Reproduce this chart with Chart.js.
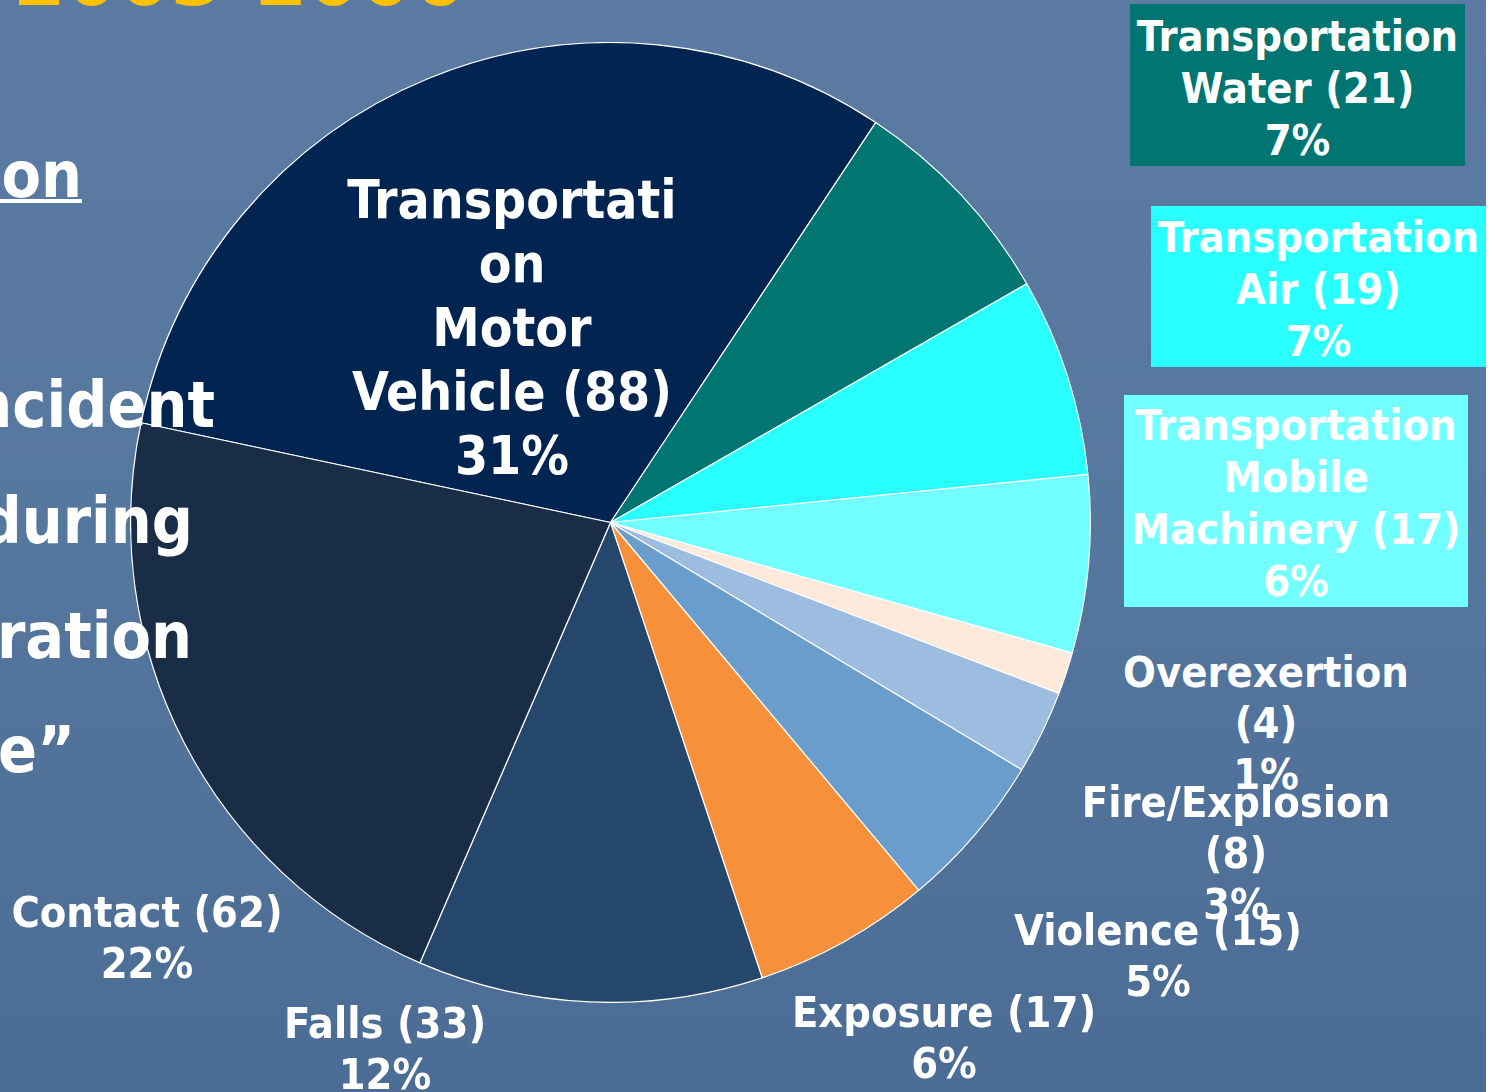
<!DOCTYPE html>
<html>
<head>
<meta charset="utf-8">
<script src="https://cdn.jsdelivr.net/npm/chart.js@4"></script>
<style>
  html, body { margin: 0; padding: 0; background: #ffffff; }
  #slide {
    position: relative; width: 1486px; height: 1092px; overflow: hidden;
    background: linear-gradient(180deg, #5b7ba2 0%, #56779e 45%, #4b6c94 100%);
    font-family: "DejaVu Sans Condensed", "DejaVu Sans", Verdana, sans-serif; font-weight: bold; color: #fff;
  }
  #pieBox { position: absolute; left: 130px; top: 42px; width: 961px; height: 961px; }
  .bodyText { position: absolute; white-space: nowrap; text-align: right; font-size: 64px; line-height: 80px; }
  .title { position: absolute; white-space: nowrap; color: #ffc000; font-size: 84px; line-height: 84px; }
  .lbl { position: absolute; white-space: nowrap; text-align: center; font-size: 43px; line-height: 51px; }
  .lbl.box { box-sizing: border-box; line-height: 52px; }
  .lbl.big { font-size: 53px; line-height: 64px; }
</style>
</head>
<body>
<div id="slide">
  <div id="pieBox"><canvas id="pie"></canvas></div>
</div>
<script>
// fatalities by event type, clockwise from the motor vehicle slice
const categories = [
  "Transportation Motor Vehicle", "Transportation Water", "Transportation Air",
  "Transportation Mobile Machinery", "Overexertion", "Fire/Explosion",
  "Violence", "Exposure", "Falls", "Contact"
];
const counts = [88, 21, 19, 17, 4, 8, 15, 17, 33, 62];
const sliceColors = [
  "#012550", "#007571", "#29ffff", "#72ffff", "#fdeadb",
  "#9dbde0", "#6a9ccc", "#f6903a", "#24476b", "#1a2d47"
];
// label text as laid out on the slide ({n} = count, {p} = percent)
const labelLines = [
  ["Transportati", "on", "Motor", "Vehicle ({n})", "{p}%"],
  ["Transportation", "Water ({n})", "{p}%"],
  ["Transportation", "Air ({n})", "{p}%"],
  ["Transportation", "Mobile", "Machinery ({n})", "{p}%"],
  ["Overexertion", "({n})", "{p}%"],
  ["Fire/Explosion", "({n})", "{p}%"],
  ["Violence ({n})", "{p}%"],
  ["Exposure ({n})", "{p}%"],
  ["Falls ({n})", "{p}%"],
  ["Contact ({n})", "{p}%"]
];
// where each label sits: centre x, top y, optional filled box
const labelPlaces = [
  { cx: 512, top: 168, cls: "big" },
  { box: [1130, 4, 335, 162], pad: 6 },
  { box: [1151, 206, 335, 161], pad: 5 },
  { box: [1124, 395, 344, 212], pad: 4 },
  { cx: 1266, top: 647 },
  { cx: 1236, top: 777 },
  { cx: 1158, top: 905 },
  { cx: 944, top: 987 },
  { cx: 385, top: 998 },
  { cx: 147, top: 887 }
];
// slide body text, cut off by the left edge: [text, right edge x, baseline y]
const bodyLines = [
  ["Transportation", 82, 197],
  ["Incident", 215, 427],
  ["during", 193, 543],
  ["operation", 192, 658],
  ["of a vehicle\u201d", 75, 772]
];

const slide = document.getElementById("slide");
const total = counts.reduce((a, b) => a + b, 0);

// background slide text
let title = document.createElement("div");
title.className = "title";
title.textContent = "Fatalities 2003-2006";
title.style.right = (1486 - 465) + "px";
title.style.top = "-66px";
slide.appendChild(title);

bodyLines.forEach((b, i) => {
  let d = document.createElement("div");
  d.className = "bodyText";
  d.textContent = b[0];
  d.style.right = (1486 - b[1]) + "px";
  d.style.top = (b[2] - 62) + "px";
  if (i == 0) {
    d.style.textDecoration = "underline";
    d.style.textDecorationThickness = "4px";
  }
  slide.appendChild(d);
});

// Make chart
new Chart(document.getElementById("pie"), {
  type: "pie",
  data: {
    labels: categories,
    datasets: [{
      data: counts,
      backgroundColor: sliceColors,
      borderColor: "#ffffff",
      borderWidth: 1.2
    }]
  },
  options: {
    responsive: true,
    maintainAspectRatio: false,
    animation: false,
    rotation: -78,
    layout: { padding: 0 },
    plugins: {
      legend: { display: false },
      tooltip: { enabled: false }
    }
  }
});

// slice labels
labelLines.forEach((lines, i) => {
  let pct = Math.round(counts[i] / total * 100);
  let place = labelPlaces[i];
  let d = document.createElement("div");
  d.className = "lbl" + (place.cls ? " " + place.cls : "") + (place.box ? " box" : "");
  d.innerHTML = lines.map(s => s.replace("{n}", counts[i]).replace("{p}", pct)).join("<br>");
  if (place.box) {
    d.style.left = place.box[0] + "px";
    d.style.top = place.box[1] + "px";
    d.style.width = place.box[2] + "px";
    d.style.height = place.box[3] + "px";
    d.style.paddingTop = place.pad + "px";
    d.style.background = sliceColors[i];
  } else {
    d.style.left = place.cx + "px";
    d.style.top = place.top + "px";
    d.style.transform = "translateX(-50%)";
  }
  slide.appendChild(d);
});
</script>
</body>
</html>
